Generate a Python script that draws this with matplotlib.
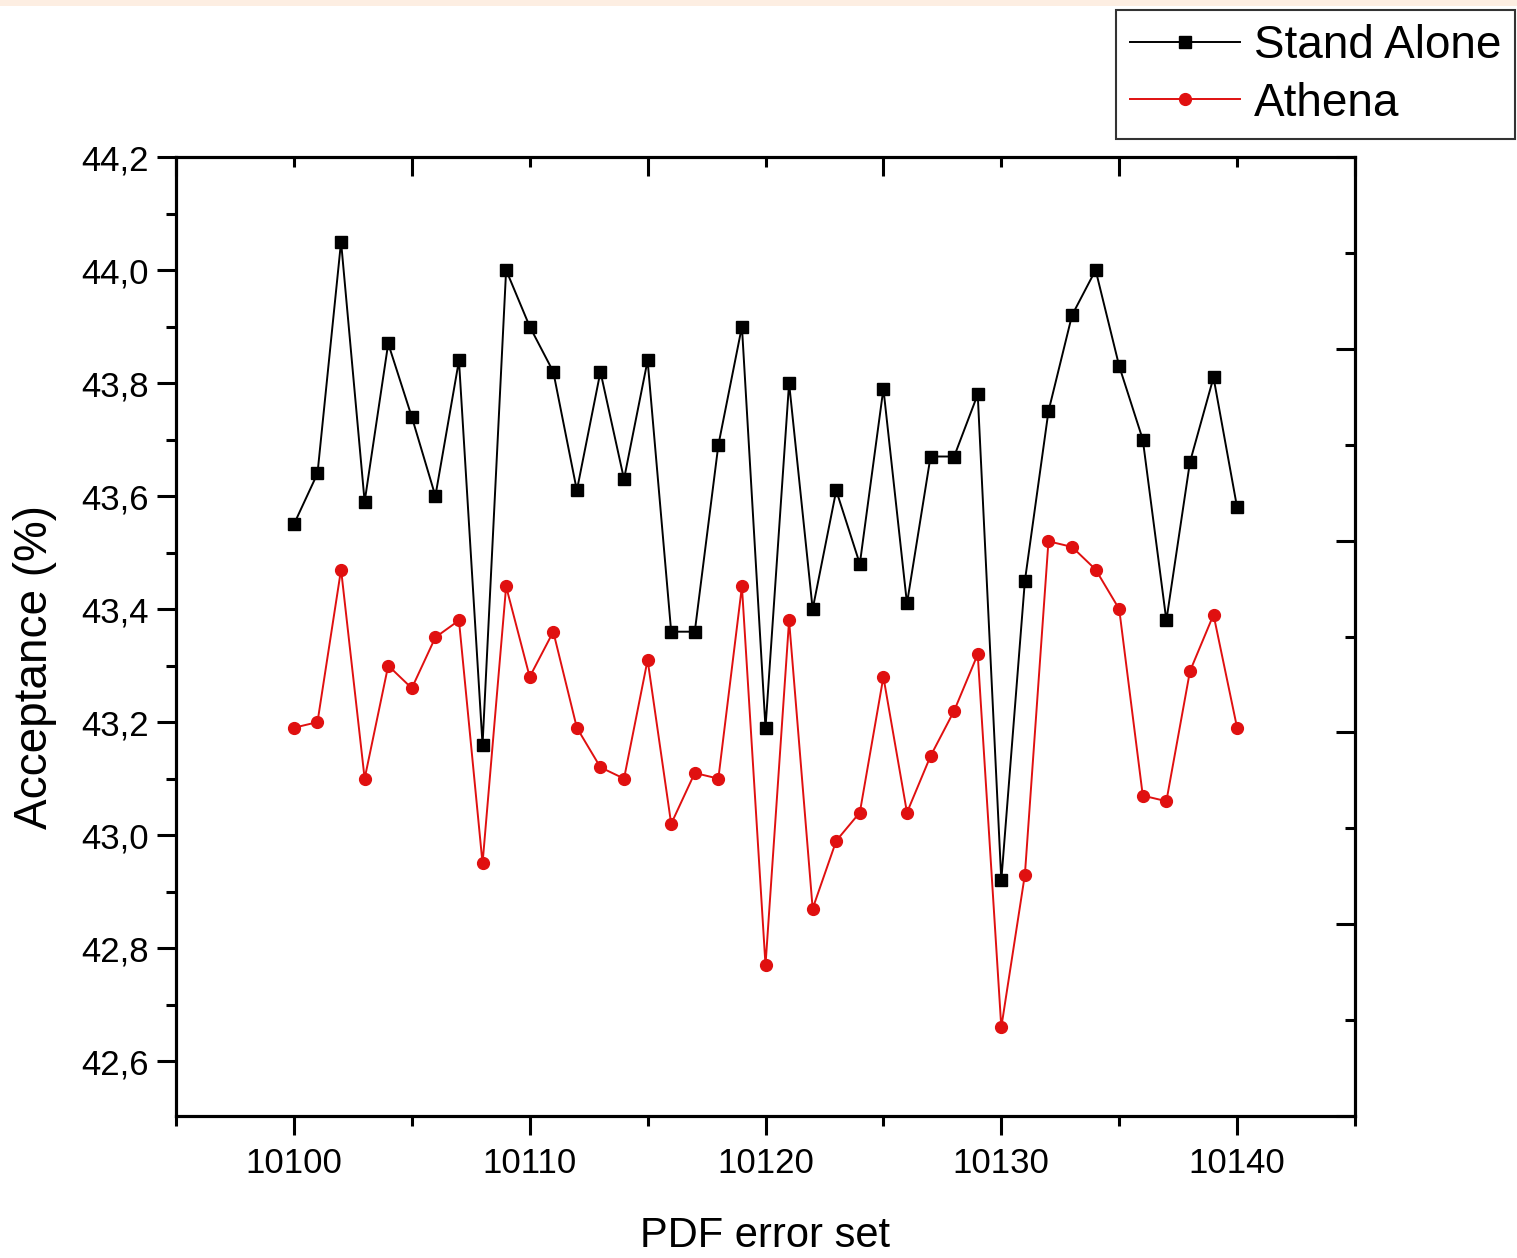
import matplotlib
matplotlib.use("Agg")
import matplotlib.pyplot as plt
from matplotlib.ticker import MultipleLocator, FuncFormatter
from matplotlib.patches import Rectangle
import numpy as np

plt.rcParams['font.family'] = ['Liberation Sans', 'DejaVu Sans']

# PDF error set members
pdf_set = np.arange(10100, 10141)

# acceptance (%) per member
stand_alone = [43.55, 43.64, 44.05, 43.59, 43.87, 43.74, 43.60, 43.84, 43.16, 44.00,
               43.90, 43.82, 43.61, 43.82, 43.63, 43.84, 43.36, 43.36, 43.69, 43.90,
               43.19, 43.80, 43.40, 43.61, 43.48, 43.79, 43.41, 43.67, 43.67, 43.78,
               42.92, 43.45, 43.75, 43.92, 44.00, 43.83, 43.70, 43.38, 43.66, 43.81,
               43.58]
athena = [43.19, 43.20, 43.47, 43.10, 43.30, 43.26, 43.35, 43.38, 42.95, 43.44,
          43.28, 43.36, 43.19, 43.12, 43.10, 43.31, 43.02, 43.11, 43.10, 43.44,
          42.77, 43.38, 42.87, 42.99, 43.04, 43.28, 43.04, 43.14, 43.22, 43.32,
          42.66, 42.93, 43.52, 43.51, 43.47, 43.40, 43.07, 43.06, 43.29, 43.39,
          43.19]

series_labels = ['Stand Alone', 'Athena']
x_label = 'PDF error set'
y_label = 'Acceptance (%)'

W, H = 1517, 1258
fig = plt.figure(figsize=(W / 100, H / 100), dpi=100)
ax = fig.add_axes([176 / W, 1 - 1116 / H, (1355 - 176) / W, (1116 - 157) / H])

# thin page band along the top edge
fig.patches.append(Rectangle((0, 1 - 6 / H), 1, 6 / H, transform=fig.transFigure,
                             facecolor='#fdeee2', edgecolor='none'))

ax.plot(pdf_set, stand_alone, color='black', lw=1.4, marker='s', ms=8.5,
        label=series_labels[0])
ax.plot(pdf_set, athena, color='#e01010', lw=1.4, marker='o', ms=8.5,
        label=series_labels[1])

ax.set_xlim(10095, 10145)
ax.set_ylim(42.503, 44.2)

ax.xaxis.set_major_locator(MultipleLocator(10))
ax.xaxis.set_minor_locator(MultipleLocator(5))
ax.yaxis.set_major_locator(MultipleLocator(0.2))
ax.yaxis.set_minor_locator(MultipleLocator(0.1))
ax.yaxis.set_major_formatter(FuncFormatter(lambda v, p: f"{v:.1f}".replace('.', ',')))

ax.tick_params(which='both', direction='out', width=2.2, labelsize=25,
               top=False, right=False)
ax.tick_params(which='major', length=13.5, pad=6)
ax.tick_params(which='minor', length=7)
ax.tick_params(axis='x', which='major', pad=9)
for s in ax.spines.values():
    s.set_linewidth(2.2)

# top and right frames carry their own inward ticks
top = ax.twiny()
top.set_xlim(ax.get_xlim())
top.xaxis.set_ticks_position('top')
top.set_xticks(np.arange(10095, 10146, 10))
top.set_xticks(np.arange(10100, 10141, 10), minor=True)
top.tick_params(axis='x', which='both', direction='in', width=2.2,
                top=True, bottom=False, labeltop=False, labelbottom=False)
top.tick_params(axis='x', which='major', length=13.5)
top.tick_params(axis='x', which='minor', length=7)

right = ax.twinx()
right.set_ylim(0, 10)
right.yaxis.set_ticks_position('right')
right.set_yticks(np.arange(0, 11, 2))
right.set_yticks(np.arange(1, 10, 2), minor=True)
right.tick_params(axis='y', which='both', direction='in', width=2.2,
                  right=True, left=False, labelright=False, labelleft=False)
right.tick_params(axis='y', which='major', length=13.5)
right.tick_params(axis='y', which='minor', length=7)
for t in (top, right):
    for s in t.spines.values():
        s.set_linewidth(2.2)

ax.set_xlabel(x_label, fontsize=30, labelpad=26)
ax.set_ylabel(y_label, fontsize=33)
ax.yaxis.set_label_coords(-0.101, 0.468)

leg = fig.legend(loc='upper right', bbox_to_anchor=(1515 / W, 1 - 10 / H),
                 fontsize=33, frameon=True, fancybox=False, edgecolor='black',
                 handlelength=2.4, handletextpad=0.3, borderpad=0.3,
                 labelspacing=0.3, borderaxespad=0)
leg.get_frame().set_linewidth(1.5)

fig.savefig('out.png', dpi=100)
